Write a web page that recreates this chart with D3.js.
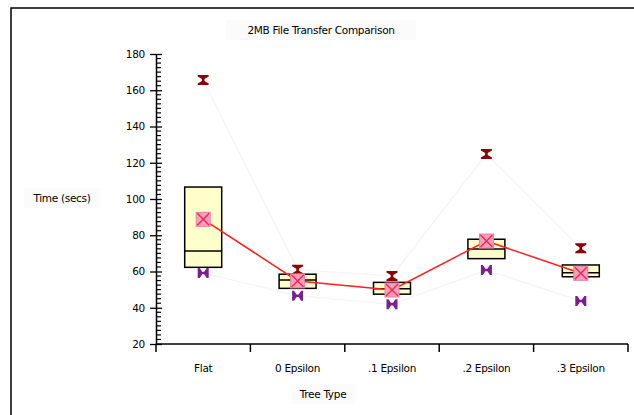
<!DOCTYPE html>
<html>
<head>
<meta charset="utf-8">
<script src="https://cdn.jsdelivr.net/npm/d3@7"></script>
<style>
  body { margin: 0; background: #fff; }
  text { font-family: "DejaVu Sans", sans-serif; fill: #000; }
</style>
</head>
<body>
<div id="chart"></div>
<script>
// values
var treeTypes = ["Flat", "0 Epsilon", ".1 Epsilon", ".2 Epsilon", ".3 Epsilon"];
var q1Vals     = [62.3, 50.7, 47.5, 67.1, 57.1];
var medianVals = [71.3, 55.3, 50.5, 72.4, 59.3];
var q3Vals     = [106.6, 58.5, 54.0, 77.8, 63.6];
var meanVals   = [88.8, 54.8, 49.8, 76.8, 59.0];
var maxVals    = [165.7, 61.0, 57.5, 124.8, 72.8];
var minVals    = [59.2, 46.6, 42.0, 60.8, 43.7];
var yTicks = [20, 40, 60, 80, 100, 120, 140, 160, 180];

function drawChart(){
  var width = 634, height = 415;
  var left = 156, right = 628, top = 54, bottom = 344;

  var svg = d3.select("#chart").append("svg")
      .attr("width", width)
      .attr("height", height);

  // outer frame
  svg.append("rect")
      .attr("x", 11).attr("y", 8)
      .attr("width", 640).attr("height", 420)
      .style("fill", "none")
      .style("stroke", "#000")
      .style("stroke-width", 1.5);

  var x = d3.scaleBand().domain(treeTypes).range([left, right]);
  var y = d3.scaleLinear().domain([20, 180]).range([bottom, top]);

  var data = treeTypes.map(function(t, i){
    return { name: t, q1: q1Vals[i], med: medianVals[i], q3: q3Vals[i],
             mean: meanVals[i], max: maxVals[i], min: minVals[i] };
  });
  var cx = function(d){ return x(d.name) + x.bandwidth()/2; };

  // title + axis titles on faint boxes
  var labels = [
    { t: "2MB File Transfer Comparison", x: 321, y: 34, w: 190 },
    { t: "Tree Type", x: 323, y: 398, w: 64 },
    { t: "Time (secs)", x: 62, y: 202, w: 76 }
  ];
  svg.selectAll(".lblbg").data(labels).enter().append("rect")
      .attr("x", function(d){ return d.x - d.w/2; })
      .attr("y", function(d){ return d.y - 14; })
      .attr("width", function(d){ return d.w; })
      .attr("height", 20)
      .style("fill", "#fbfbfb");
  svg.selectAll(".lbl").data(labels).enter().append("text")
      .attr("x", function(d){ return d.x; })
      .attr("y", function(d){ return d.y; })
      .attr("text-anchor", "middle")
      .style("font-size", "10.5px")
      .style("letter-spacing", "-0.3px")
      .text(function(d){ return d.t; });

  // y axis: majors every 20, minors every 2.5
  var yAxis = d3.axisLeft(y).tickValues(yTicks).tickSize(6).tickSizeOuter(0).tickPadding(5);
  var ya = svg.append("g").attr("transform", "translate(" + left + ",0)").call(yAxis);
  ya.selectAll("text").style("font-size", "10.5px").style("letter-spacing", "-0.3px");
  ya.selectAll("line").attr("x2", -6).attr("x1", 6).style("stroke-width", 1.3);
  ya.select(".domain").style("stroke-width", 1.5);
  var minors = d3.range(20, 180.01, 2.5).filter(function(v){ return v % 20 != 0; });
  ya.selectAll(".minor").data(minors).enter().append("line")
      .attr("x1", 0).attr("x2", 5)
      .attr("y1", function(d){ return y(d); })
      .attr("y2", function(d){ return y(d); })
      .style("stroke", "#000").style("stroke-width", 1.2);

  // x axis: ticks on band edges
  var xa = svg.append("g").attr("transform", "translate(0," + bottom + ")");
  xa.append("line").attr("x1", left).attr("x2", right)
      .style("stroke", "#000").style("stroke-width", 1.5);
  var edges = treeTypes.map(function(t){ return x(t); }).concat([right]);
  xa.selectAll(".edge").data(edges).enter().append("line")
      .attr("x1", function(d){ return d; }).attr("x2", function(d){ return d; })
      .attr("y1", 0).attr("y2", 8)
      .style("stroke", "#000").style("stroke-width", 1.5);
  xa.selectAll(".cat").data(treeTypes).enter().append("text")
      .attr("x", function(d){ return x(d) + x.bandwidth()/2; })
      .attr("y", 28)
      .attr("text-anchor", "middle")
      .style("font-size", "10.5px")
      .style("letter-spacing", "-0.3px")
      .text(function(d){ return d; });

  // faint lines joining max and min markers
  var faint = ["max", "min"];
  faint.forEach(function(k){
    svg.append("path")
        .datum(data)
        .attr("d", d3.line().x(cx).y(function(d){ return y(d[k]); }))
        .style("fill", "none")
        .style("stroke", "#f5f5f5")
        .style("stroke-width", 1.5);
  });

  // boxes
  var bw = 37;
  var boxes = svg.selectAll(".box").data(data).enter().append("g");
  boxes.append("rect")
      .attr("x", function(d){ return cx(d) - bw/2; })
      .attr("y", function(d){ return y(d.q3); })
      .attr("width", bw)
      .attr("height", function(d){ return y(d.q1) - y(d.q3); })
      .style("fill", "#ffffcc")
      .style("stroke", "#000")
      .style("stroke-width", 1.5);
  boxes.append("line")
      .attr("x1", function(d){ return cx(d) - bw/2; })
      .attr("x2", function(d){ return cx(d) + bw/2; })
      .attr("y1", function(d){ return y(d.med); })
      .attr("y2", function(d){ return y(d.med); })
      .style("stroke", "#000")
      .style("stroke-width", 1.5);

  // max markers (hourglass)
  svg.selectAll(".maxm").data(data).enter().append("path")
      .attr("transform", function(d){ return "translate(" + cx(d) + "," + y(d.max) + ")"; })
      .attr("d", "M-5.5,-5 L5.5,-5 L5.5,-3.5 L1.3,-1 L1.3,1 L5.5,3.5 L5.5,5 L-5.5,5 L-5.5,3.5 L-1.3,1 L-1.3,-1 L-5.5,-3.5 Z")
      .style("fill", "#8b0000");

  // min markers (bow tie)
  svg.selectAll(".minm").data(data).enter().append("path")
      .attr("transform", function(d){ return "translate(" + cx(d) + "," + y(d.min) + ")"; })
      .attr("d", "M-5.5,-5 L-3.5,-5 L-1,-1.3 L1,-1.3 L3.5,-5 L5.5,-5 L5.5,5 L3.5,5 L1,1.3 L-1,1.3 L-3.5,5 L-5.5,5 Z")
      .style("fill", "#7b1f8c");

  // mean line
  svg.append("path")
      .datum(data)
      .attr("d", d3.line().x(cx).y(function(d){ return y(d.mean); }))
      .style("fill", "none")
      .style("stroke", "#ff2020")
      .style("stroke-width", 1.5);

  // mean markers
  var m = svg.selectAll(".meanm").data(data).enter().append("g")
      .attr("transform", function(d){ return "translate(" + cx(d) + "," + y(d.mean) + ")"; });
  m.append("rect")
      .attr("x", -7).attr("y", -7).attr("width", 14).attr("height", 14)
      .style("fill", "#f2a0bc")
      .style("stroke", "#e8809f")
      .style("stroke-width", 1);
  m.append("path")
      .attr("d", "M-6,-6 L6,6 M6,-6 L-6,6")
      .style("stroke", "#ff2050")
      .style("stroke-width", 1.3);
}

drawChart();
</script>
</body>
</html>
